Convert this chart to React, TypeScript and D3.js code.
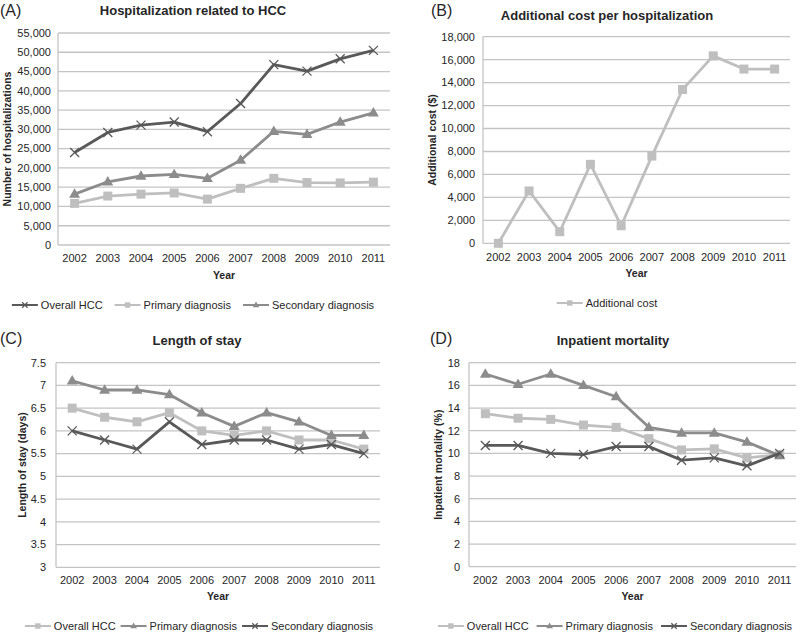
import React from 'react';
import * as d3 from 'd3';

const years = ['2002', '2003', '2004', '2005', '2006', '2007', '2008', '2009', '2010', '2011'];

const hospOverall = [24000, 29200, 31100, 31900, 29400, 36700, 46800, 45100, 48300, 50500];
const hospPrimary = [10800, 12700, 13200, 13500, 11900, 14700, 17300, 16200, 16100, 16300];
const hospSecondary = [13200, 16400, 17900, 18300, 17300, 22000, 29500, 28700, 31900, 34300];

const additionalCost = [0, 4560, 1010, 6880, 1530, 7600, 13400, 16330, 15180, 15180];

const losOverall = [6.5, 6.3, 6.2, 6.4, 6.0, 5.9, 6.0, 5.8, 5.8, 5.6];
const losPrimary = [7.1, 6.9, 6.9, 6.8, 6.4, 6.1, 6.4, 6.2, 5.9, 5.9];
const losSecondary = [6.0, 5.8, 5.6, 6.2, 5.7, 5.8, 5.8, 5.6, 5.7, 5.5];

const mortOverall = [13.5, 13.1, 13.0, 12.5, 12.3, 11.3, 10.3, 10.4, 9.6, 9.9];
const mortPrimary = [17.0, 16.1, 17.0, 16.0, 15.0, 12.3, 11.8, 11.8, 11.0, 9.8];
const mortSecondary = [10.7, 10.7, 10.0, 9.9, 10.6, 10.6, 9.4, 9.6, 8.9, 10.0];

const ticksA = [0, 5000, 10000, 15000, 20000, 25000, 30000, 35000, 40000, 45000, 50000, 55000];
const ticksB = [0, 2000, 4000, 6000, 8000, 10000, 12000, 14000, 16000, 18000];
const ticksC = [3, 3.5, 4, 4.5, 5, 5.5, 6, 6.5, 7, 7.5];
const ticksD = [0, 2, 4, 6, 8, 10, 12, 14, 16, 18];

const DARK = '#595959';
const MID = '#8c8c8c';
const LIGHT = '#bfbfbf';
const GRID = '#c4c4c4';
const TEXT = '#262626';
const FONT = "'Liberation Sans', Arial, sans-serif";

type Marker = 'square' | 'triangle' | 'x';
interface Series { name: string; values: number[]; color: string; marker: Marker; }

let ctx: CanvasRenderingContext2D | null = null;
function textWidth(s: string, size: number): number {
  if (!ctx) ctx = document.createElement('canvas').getContext('2d');
  if (!ctx) return s.length * size * 0.55;
  ctx.font = `${size}px ${FONT}`;
  return ctx.measureText(s).width;
}

function MarkerShape({ type, x, y, color, scale = 1 }: { type: Marker; x: number; y: number; color: string; scale?: number }) {
  if (type === 'square') {
    const h = 4.5 * scale;
    return <rect x={x - h} y={y - h} width={2 * h} height={2 * h} fill={color} />;
  }
  if (type === 'triangle') {
    const p = d3.symbol().type(d3.symbolTriangle).size(52 * scale * scale)();
    return <path d={p || ''} transform={`translate(${x},${y + 0.5 * scale})`} fill={color} />;
  }
  const r = 4.5 * scale;
  return (
    <g stroke={color} strokeWidth={1.3}>
      <line x1={x - r} y1={y - r} x2={x + r} y2={y + r} />
      <line x1={x - r} y1={y + r} x2={x + r} y2={y - r} />
    </g>
  );
}

interface PanelProps {
  left: number; right: number; top: number; bottom: number;
  domain: [number, number]; ticks: number[]; fmt: (v: number) => string;
  series: Series[];
  title: string; titleX: number; titleY: number;
  tag: string; tagX: number; tagY: number;
  yLabel: string; yLabelX: number;
  tickEnd: number; xTickY: number; xTitleY: number;
  legendY: number; legendCenter: number; legendGap: number;
}

function Panel(p: PanelProps) {
  const x = d3.scaleBand<string>().domain(years).range([p.left, p.right]).padding(0);
  const y = d3.scaleLinear().domain(p.domain).range([p.bottom, p.top]);
  const cx = (d: string) => (x(d) ?? 0) + x.bandwidth() / 2;
  const line = d3.line<number>().x((_, i) => cx(years[i])).y((v) => y(v));

  // legend layout
  const lineLen = 26;
  const textGap = 3;
  const items = p.series.map((s) => ({ s, w: lineLen + textGap + textWidth(s.name, 11) }));
  const total = items.reduce((a, b) => a + b.w, 0) + p.legendGap * (items.length - 1);
  let lx = p.legendCenter - total / 2;
  const legendItems = items.map((it) => {
    const start = lx;
    lx += it.w + p.legendGap;
    return { ...it, start };
  });

  return (
    <g>
      {p.ticks.map((t) => (
        <line key={`g${t}`} x1={p.left} x2={p.right} y1={y(t)} y2={y(t)} stroke={GRID} strokeWidth={1.3} />
      ))}
      <line x1={p.left} x2={p.left} y1={p.top} y2={p.bottom} stroke={GRID} strokeWidth={1.3} />
      {p.ticks.map((t) => (
        <text key={`t${t}`} x={p.tickEnd} y={y(t)} dy="0.35em" textAnchor="end" fontSize={11} fill={TEXT} fontFamily={FONT}>
          {p.fmt(t)}
        </text>
      ))}
      {years.map((yr) => (
        <text key={yr} x={cx(yr)} y={p.xTickY} textAnchor="middle" fontSize={11} fill={TEXT} fontFamily={FONT}>
          {yr}
        </text>
      ))}
      <text x={(p.left + p.right) / 2} y={p.xTitleY} textAnchor="middle" fontSize={10.5} fontWeight="bold" fill={TEXT} fontFamily={FONT}>
        Year
      </text>
      <text
        transform={`translate(${p.yLabelX},${(p.top + p.bottom) / 2}) rotate(-90)`}
        textAnchor="middle" fontSize={10.5} fontWeight="bold" fill={TEXT} fontFamily={FONT}
      >
        {p.yLabel}
      </text>
      <text x={p.titleX} y={p.titleY} textAnchor="middle" fontSize={13} fontWeight="bold" fill={TEXT} fontFamily={FONT}>
        {p.title}
      </text>
      <text x={p.tagX} y={p.tagY} fontSize={16} fill={TEXT} fontFamily={FONT}>
        {p.tag}
      </text>
      {p.series.map((s) => (
        <g key={s.name}>
          <path d={line(s.values) || ''} fill="none" stroke={s.color} strokeWidth={2.8} strokeLinejoin="round" />
          {s.values.map((v, i) => (
            <MarkerShape key={i} type={s.marker} x={cx(years[i])} y={y(v)} color={s.color} />
          ))}
        </g>
      ))}
      {legendItems.map((it) => (
        <g key={`l${it.s.name}`}>
          <line x1={it.start} x2={it.start + lineLen} y1={p.legendY - 4} y2={p.legendY - 4} stroke={it.s.color} strokeWidth={2} />
          <MarkerShape type={it.s.marker} x={it.start + lineLen / 2} y={p.legendY - 4} color={it.s.color} scale={0.6} />
          <text x={it.start + lineLen + textGap} y={p.legendY} fontSize={11} fill={TEXT} fontFamily={FONT}>
            {it.s.name}
          </text>
        </g>
      ))}
    </g>
  );
}

const fmtComma = d3.format(',');
const fmtPlain = (v: number) => String(v);

export default function App() {
  return (
    <svg width={800} height={635} style={{ position: 'absolute', left: 0, top: 0, background: '#fff' }}>
      <Panel
        left={58} right={390} top={33} bottom={245}
        domain={[0, 55000]} ticks={ticksA} fmt={fmtComma}
        series={[
          { name: 'Overall HCC', values: hospOverall, color: DARK, marker: 'x' },
          { name: 'Primary diagnosis', values: hospPrimary, color: LIGHT, marker: 'square' },
          { name: 'Secondary diagnosis', values: hospSecondary, color: MID, marker: 'triangle' },
        ]}
        title="Hospitalization related to HCC" titleX={193} titleY={15}
        tag="(A)" tagX={0} tagY={16}
        yLabel="Number of hospitalizations" yLabelX={11}
        tickEnd={51} xTickY={262} xTitleY={279} legendY={309} legendCenter={193} legendGap={12}
      />
      <Panel
        left={483} right={790} top={36.7} bottom={243.3}
        domain={[0, 18000]} ticks={ticksB} fmt={fmtComma}
        series={[{ name: 'Additional cost', values: additionalCost, color: LIGHT, marker: 'square' }]}
        title="Additional cost per hospitalization" titleX={607} titleY={20}
        tag="(B)" tagX={431} tagY={16}
        yLabel="Additional cost ($)" yLabelX={436}
        tickEnd={475} xTickY={261} xTitleY={277} legendY={307} legendCenter={607} legendGap={8}
      />
      <Panel
        left={56} right={380} top={362.7} bottom={567.3}
        domain={[3, 7.5]} ticks={ticksC} fmt={fmtPlain}
        series={[
          { name: 'Overall HCC', values: losOverall, color: LIGHT, marker: 'square' },
          { name: 'Primary diagnosis', values: losPrimary, color: MID, marker: 'triangle' },
          { name: 'Secondary diagnosis', values: losSecondary, color: DARK, marker: 'x' },
        ]}
        title="Length of stay" titleX={197} titleY={345}
        tag="(C)" tagX={0} tagY={344}
        yLabel="Length of stay (days)" yLabelX={26}
        tickEnd={46} xTickY={584} xTitleY={600} legendY={630} legendCenter={199} legendGap={5}
      />
      <Panel
        left={469} right={796} top={362.7} bottom={566.7}
        domain={[0, 18]} ticks={ticksD} fmt={fmtPlain}
        series={[
          { name: 'Overall HCC', values: mortOverall, color: LIGHT, marker: 'square' },
          { name: 'Primary diagnosis', values: mortPrimary, color: MID, marker: 'triangle' },
          { name: 'Secondary diagnosis', values: mortSecondary, color: DARK, marker: 'x' },
        ]}
        title="Inpatient mortality" titleX={613} titleY={345}
        tag="(D)" tagX={430} tagY={344}
        yLabel="Inpatient mortality (%)" yLabelX={442}
        tickEnd={460} xTickY={584} xTitleY={600} legendY={630} legendCenter={615} legendGap={8}
      />
    </svg>
  );
}
